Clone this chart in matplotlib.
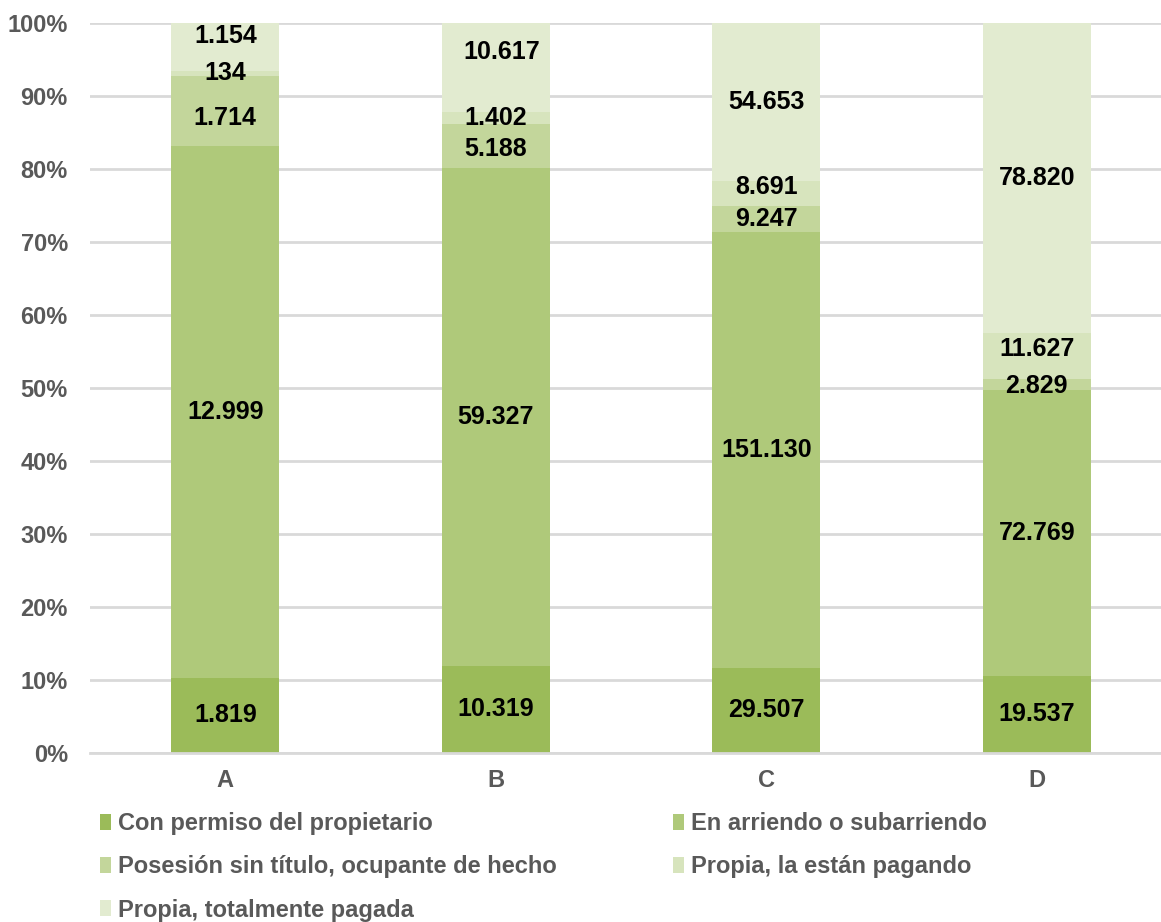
import matplotlib
matplotlib.use("Agg")
import matplotlib.pyplot as plt
import numpy as np

plt.rcParams['font.family'] = ['Liberation Sans', 'DejaVu Sans']

categories = ["A", "B", "C", "D"]
series_names = [
    "Con permiso del propietario",
    "En arriendo o subarriendo",
    "Posesión sin título, ocupante de hecho",
    "Propia, la están pagando",
    "Propia, totalmente pagada",
]
con_permiso = [1819, 10319, 29507, 19537]
en_arriendo = [12999, 59327, 151130, 72769]
posesion = [1714, 5188, 9247, 2829]
propia_pagando = [134, 1402, 8691, 11627]
propia_pagada = [1154, 10617, 54653, 78820]
y_ticks = [0, 10, 20, 30, 40, 50, 60, 70, 80, 90, 100]

series = [con_permiso, en_arriendo, posesion, propia_pagando, propia_pagada]
colors = ["#9BBB59", "#AFC97A", "#C3D69B", "#D7E4BD", "#E2EBD0"]
# label nudges (points) per series/category: (dx, dy)
nudges = {
    (2, 0): (0, -5), (4, 0): (0, 8),
    (2, 1): (0, -2), (4, 1): (4, 11.5),
    (3, 2): (0, 4.5),
    (2, 3): (0, -1.5), (3, 3): (0, 5),
}

data = np.array(series, dtype=float)
totals = data.sum(axis=0)
pct = data / totals * 100

fig = plt.figure(figsize=(11.61, 9.22), dpi=100)
ax = fig.add_axes([90/1161, 1 - 752.7/922, (1172-90)/1161, (752.7-23.3)/922])

x = np.arange(len(categories))
bottom = np.zeros(len(categories))
handles = []
for i, (name, p) in enumerate(zip(series_names, pct)):
    bars = ax.bar(x, p, width=0.4, bottom=bottom, color=colors[i], label=name, zorder=2)
    handles.append(bars)
    for j in range(len(categories)):
        val = series[i][j]
        lbl = f"{val:,}".replace(",", ".")
        dx, dy = nudges.get((i, j), (0, 0))
        ax.annotate(lbl, (x[j], bottom[j] + p[j] / 2), xytext=(dx, dy),
                    textcoords="offset points", ha="center", va="center",
                    fontsize=18, fontweight="bold", color="black", zorder=3)
    bottom += p

ax.set_xlim(-0.5, 3.5)
ax.set_ylim(0, 100)
ax.set_yticks(y_ticks)
ax.set_yticklabels([f"{t}%" for t in y_ticks])
ax.set_xticks(x)
ax.set_xticklabels(categories)
ax.yaxis.grid(True, color="#D9D9D9", linewidth=2, zorder=0)
ax.set_axisbelow(True)
for s in ["top", "right", "left"]:
    ax.spines[s].set_visible(False)
ax.spines["bottom"].set_color("#D9D9D9")
ax.spines["bottom"].set_linewidth(2)
ax.tick_params(axis="both", length=0, labelsize=17, labelcolor="#595959")
ax.tick_params(axis="y", pad=16)
ax.tick_params(axis="x", pad=12)
for t in ax.get_xticklabels() + ax.get_yticklabels():
    t.set_fontweight("bold")

order = [0, 2, 4, 1, 3]
leg = fig.legend([handles[k] for k in order], [series_names[k] for k in order],
                 loc="upper left", bbox_to_anchor=(100/1161, 1 - 812/922),
                 ncol=2, frameon=False, borderpad=0, borderaxespad=0,
                 handlelength=0.45, handleheight=0.65, handletextpad=0.3,
                 labelspacing=0.86, columnspacing=4.95,
                 prop={"size": 17, "weight": "bold"})
for t in leg.get_texts():
    t.set_color("#595959")

fig.savefig("out.png", dpi=100)
